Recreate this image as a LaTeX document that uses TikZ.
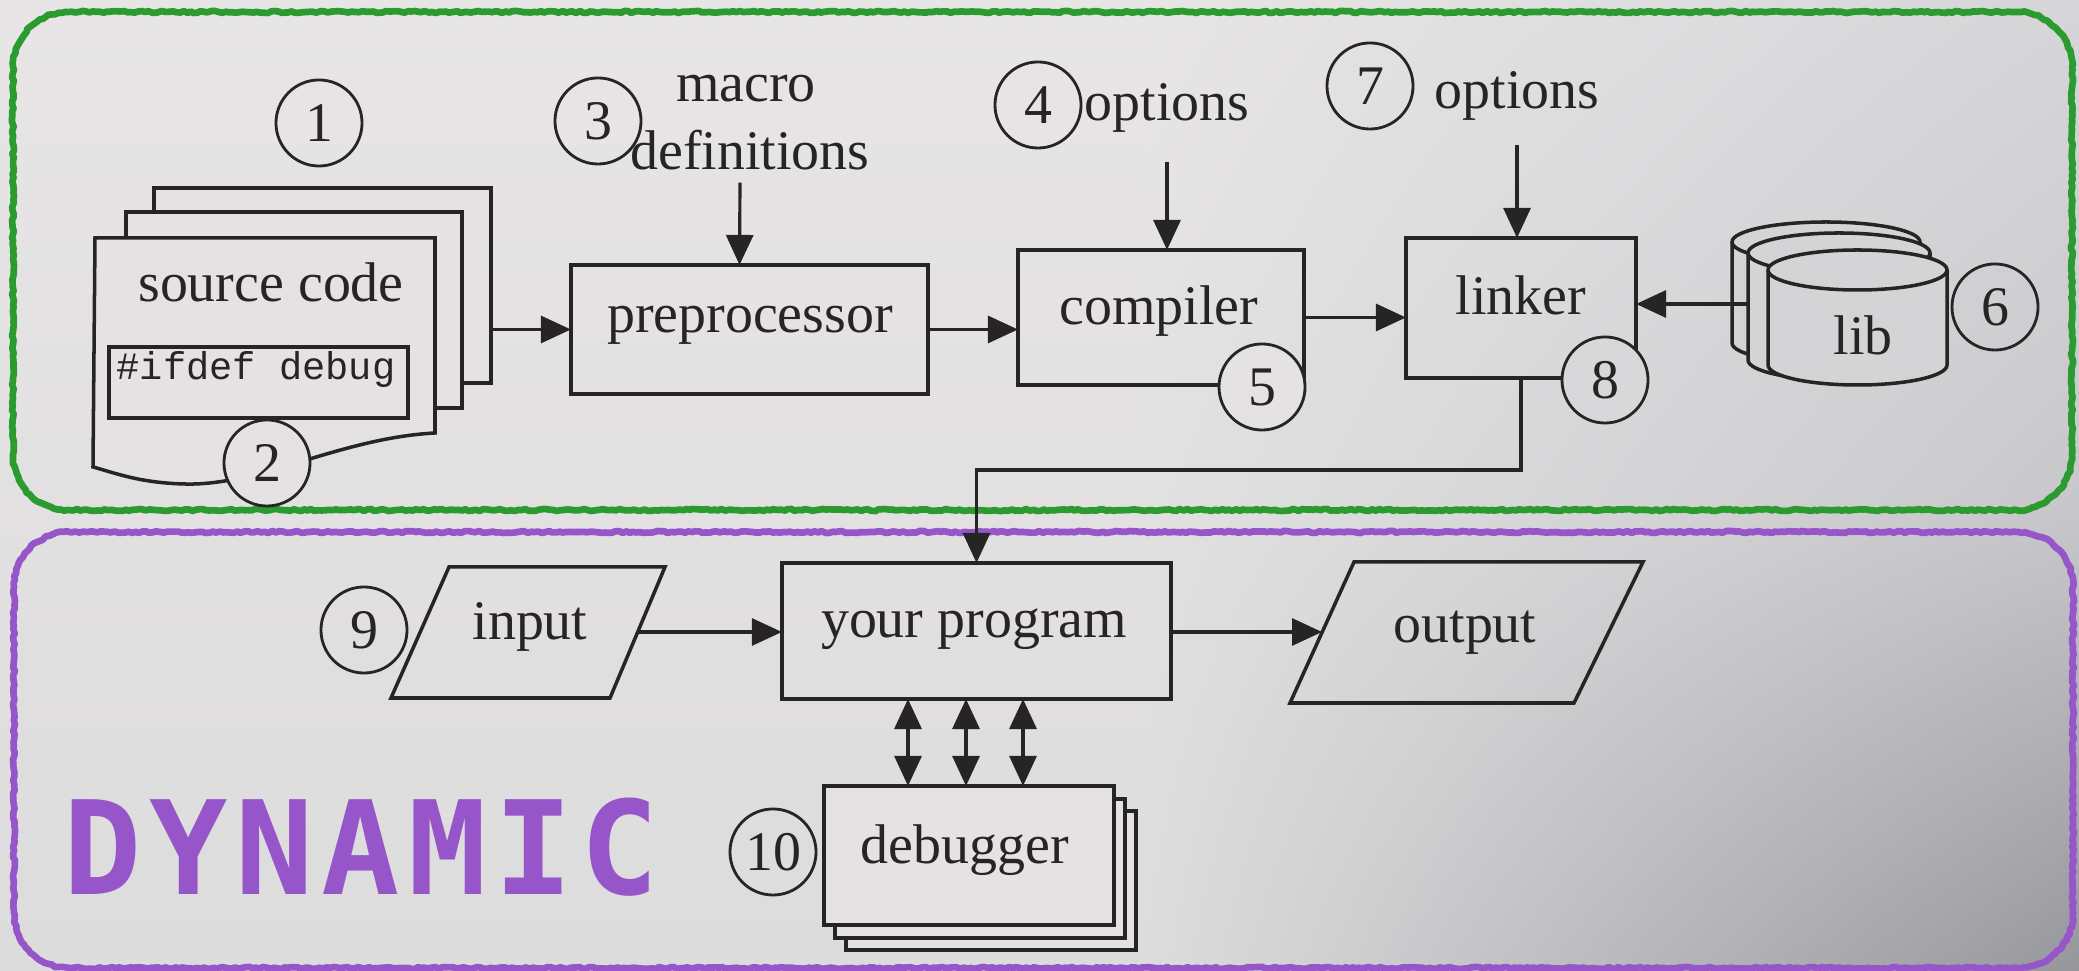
\documentclass[tikz,border=0pt]{standalone}
\usepackage{fontspec}
\setmainfont{Liberation Serif}
\setmonofont{Liberation Mono}
\newfontfamily\dynfam[LetterSpace=6]{DejaVu Sans Mono}
\usetikzlibrary{arrows.meta,calc,decorations.pathmorphing,shadings}

% paper and ink
\definecolor{bgTL}{RGB}{231,229,229}
\definecolor{bgML}{RGB}{226,225,225}
\definecolor{bgBL}{RGB}{221,220,221}
\definecolor{bgTR}{RGB}{214,214,217}
\definecolor{bgMR}{RGB}{200,200,204}
\definecolor{bgBR}{RGB}{150,151,156}
\definecolor{paper}{RGB}{228,226,226}
\definecolor{paperR}{RGB}{216,216,218}
\definecolor{libfill}{RGB}{212,212,215}
\definecolor{ink}{RGB}{38,36,36}
\definecolor{gmark}{RGB}{43,155,48}
\definecolor{pmark}{RGB}{150,86,201}

\newcommand\lbfont{\fontsize{15.9pt}{19.3pt}\selectfont}
\newcommand\codefont{\ttfamily\fontsize{11pt}{13pt}\selectfont}
\newcommand\dynfont{\dynfam\bfseries\fontsize{37pt}{40pt}\selectfont}

\tikzset{
  boxnode/.style={rectangle, draw=ink, line width=1pt, inner sep=0pt, outer sep=0pt},
  pagenode/.style={boxnode, fill=paper},
  lbl/.style={anchor=base, inner sep=0pt, outer sep=0pt, text=ink, font=\lbfont},
  num/.style={circle, draw=ink, line width=0.8pt, minimum size=0.86cm, inner sep=0pt, font=\lbfont, text=ink},
  arr/.style={draw=ink, line width=0.9pt, -{Triangle[length=0.3cm,width=0.27cm]}},
  darr/.style={draw=ink, line width=0.9pt, {Triangle[length=0.3cm,width=0.27cm]}-{Triangle[length=0.3cm,width=0.27cm]}},
  slanted/.style={draw=ink, line width=1pt, line join=miter},
  frame/.style={line width=1.9pt, line join=round, line cap=round,
    decorate, decoration={random steps, segment length=0.035cm, amplitude=0.01cm}},
  cyl/.style={fill=libfill, draw=ink, line width=1pt},
}

% rounded marker frame: #1 colour, corners (#2,#3) and (#4,#5), radius 55
\newcommand\markerframe[5]{%
  \draw[frame, draw=#1] (#2+55,#3) -- (#4-55,#3)
    arc[start angle=-90, end angle=0, radius=55] -- (#4,#5-55)
    arc[start angle=0, end angle=90, radius=55] -- (#2+55,#5)
    arc[start angle=90, end angle=180, radius=55] -- (#2,#3+55)
    arc[start angle=180, end angle=270, radius=55] -- cycle;}

\begin{document}
\pgfmathsetseed{7}
\begin{tikzpicture}[x=0.01cm, y=-0.01cm]
\useasboundingbox (0,0) rectangle (2079,971);

% paper, darker towards the lower right
\shade[top color=bgTL, bottom color=bgBL] (0,0) rectangle (1151,971);
\shade[upper left=bgTL, upper right=bgTR, lower left=bgML, lower right=bgMR] (1150,0) rectangle (2079,501);
\shade[upper left=bgML, upper right=bgMR, lower left=bgBL, lower right=bgBR] (1150,500) rectangle (2079,971);

% marker frames
\markerframe{gmark}{13}{12}{2072}{510}
\markerframe{pmark}{14}{532}{2073}{968}

% ---------- source code stack ----------
\node[pagenode, minimum width=3.37cm, minimum height=1.95cm] (srcback) at (322.5,285.5) {};
\node[pagenode, minimum width=3.36cm, minimum height=1.96cm] (srcmid) at (294,310) {};
\filldraw[fill=paper, draw=ink, line width=1pt]
  (95,238) -- (435,238) -- (435,433)
  .. controls (340,438) and (260,486) .. (185,484)
  .. controls (140,483) and (115,473) .. (93,467) -- cycle;
\node[lbl] (srctxt) at (271,302) {source code};
\node[boxnode, minimum width=2.99cm, minimum height=0.71cm] (ifdef) at (258.5,382.5) {};
\node[anchor=base west, inner sep=0pt, text=ink, font=\codefont] (ifdeftxt) at (116,380) {\#ifdef debug};

% ---------- build chain ----------
\node[boxnode, minimum width=3.57cm, minimum height=1.29cm] (prep) at (749.5,329.5) {};
\node[lbl] (preptxt) at (750,333) {preprocessor};
\node[boxnode, minimum width=2.86cm, minimum height=1.35cm] (comp) at (1161,317.5) {};
\node[lbl] (comptxt) at (1159,325) {compiler};
\node[boxnode, minimum width=2.30cm, minimum height=1.40cm] (link) at (1521,308) {};
\node[lbl] (linktxt) at (1521,315) {linker};

\node[lbl] (macro) at (746,102) {macro};
\node[lbl] (defs) at (750,170) {definitions};
\node[lbl] (opt4) at (1167,121) {options};
\node[lbl] (opt7) at (1517,109) {options};

% library cylinders, back to front
\foreach \cx/\rx/\yt/\yb in {1826/94/242/343, 1839/91/253/360, 1857.5/89.5/270/365}{
  \filldraw[cyl] (\cx-\rx,\yt) -- (\cx-\rx,\yb)
    arc[start angle=180, end angle=0, x radius=\rx, y radius=20]
    -- (\cx+\rx,\yt)
    arc[start angle=0, end angle=-180, x radius=\rx, y radius=20] -- cycle;
  \draw[ink, line width=1pt] (\cx-\rx,\yt) arc[start angle=180, end angle=0, x radius=\rx, y radius=20];
}
\node[lbl] (libtxt) at (1863,355) {lib};
\coordinate (libW) at (1748,304);

% arrows of the build chain
\draw[arr] (prep.west -| srcback.east) -- (prep.west);
\draw[arr] ($(defs.south)+(-10,12)$) -- ($(prep.north)+(-10,0)$);
\draw[arr] (prep.east) -- (prep.east -| comp.west);
\draw[arr] ($(opt4.south)+(0,29)$) -- (opt4.south |- comp.north);
\draw[arr] (comp.east) -- (comp.east -| link.west);
\draw[arr] ($(opt7.south)+(0,24)$) -- (opt7.south |- link.north);
\draw[arr] (libW) -- (link.east |- libW);

% ---------- run time ----------
\node[boxnode, minimum width=3.89cm, minimum height=1.36cm] (prog) at (976.5,631) {};
\node[lbl] (progtxt) at (974,638) {your program};

\draw[slanted] (449,567) -- (665,567) -- (610,698) -- (391,698) -- cycle;
\node[lbl] (intxt) at (530,640) {input};
\coordinate (inE) at (638,632);
\draw[slanted] (1354,562) -- (1643,562) -- (1574,703) -- (1290,703) -- cycle;
\node[lbl] (outtxt) at (1465,643) {output};
\coordinate (outW) at (1322,632);

\draw[arr] (link.south) -- ++(0,92) -| (prog.north);
\draw[arr] (inE) -- (inE -| prog.west);
\draw[arr] (prog.east |- outW) -- (outW);

% debugger stack
\node[pagenode, minimum width=2.90cm, minimum height=1.39cm] (dbg3) at (991,880.5) {};
\node[pagenode, minimum width=2.90cm, minimum height=1.39cm] (dbg2) at (980,868.5) {};
\node[pagenode, minimum width=2.90cm, minimum height=1.39cm] (dbg) at (969,855.5) {};
\node[lbl] (dbgtxt) at (965,864) {debugger};
\foreach \x in {908,966,1023}
  \draw[darr] (prog.south -| \x,0) -- (dbg.north -| \x,0);

% ---------- numbered callouts ----------
\node[num] (n1) at (319,123) {1};
\node[num, fill=paper] (n2) at (267,463) {2};
\node[num] (n3) at (598,121) {3};
\node[num] (n4) at (1038,105) {4};
\node[num, fill=paper] (n5) at (1262,387) {5};
\node[num] (n6) at (1995,307) {6};
\node[num] (n7) at (1370,86) {7};
\node[num, fill=paperR] (n8) at (1605,380) {8};
\node[num] (n9) at (364,630) {9};
\node[num] (n10) at (773,852) {10};

% handwritten section label
\node[anchor=base west, inner sep=0pt, text=pmark, font=\dynfont] (dyn) at (63,895) {DYNAMIC};
\end{tikzpicture}
\end{document}
